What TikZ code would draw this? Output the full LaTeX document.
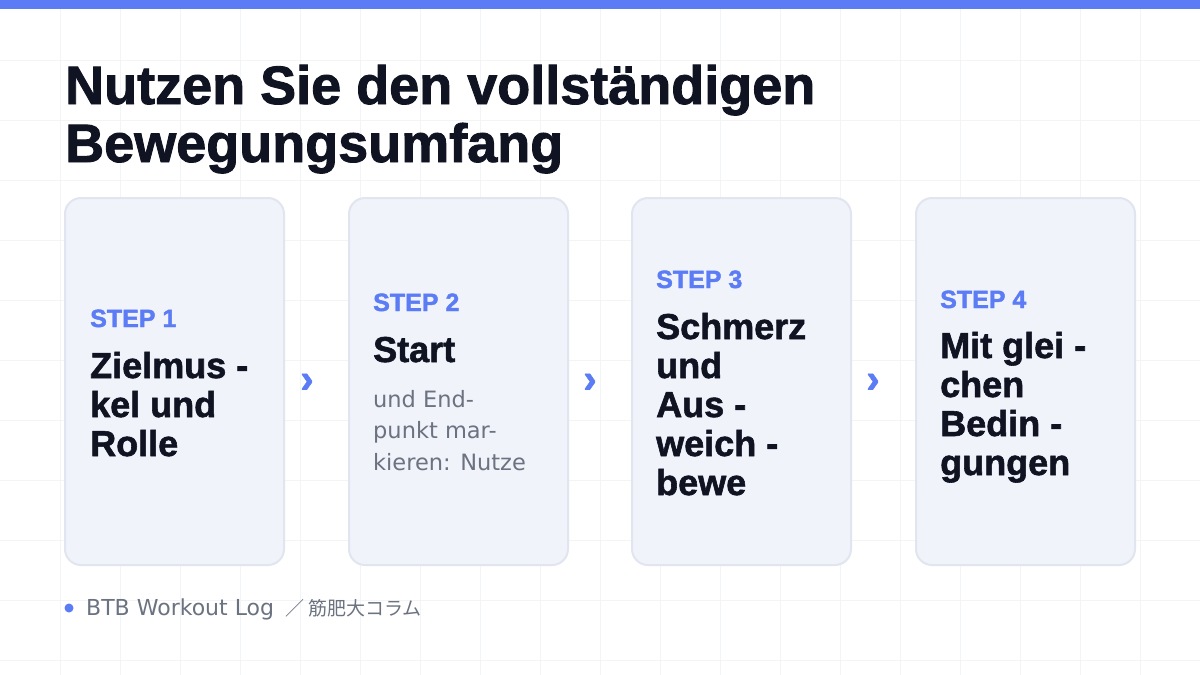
\documentclass[tikz,border=0pt]{standalone}
\usepackage{fontspec}
\setmainfont{Liberation Sans}[BoldFeatures={FakeBold=1.6}]
\newfontfamily\bodyfont{DejaVu Sans}
\newfontfamily\jpfont{Noto Sans CJK JP}
\usetikzlibrary{positioning}

\definecolor{accent}{HTML}{5B7CF5}
\definecolor{ink}{HTML}{101322}
\definecolor{muted}{HTML}{6B7280}
\definecolor{cardfill}{HTML}{F1F3FB}
\definecolor{cardline}{HTML}{E1E5F0}
\definecolor{gridline}{HTML}{F3F4F7}

\begin{document}
\begin{tikzpicture}[x=1pt,y=-1pt]
	\tikzstyle{cardbox}=[draw=cardline,fill=cardfill,line width=2pt,rounded corners=16pt]
	\tikzstyle{steplabel}=[anchor=base west,inner sep=0pt,text=accent,font=\fontsize{25}{28}\selectfont\bfseries]
	\tikzstyle{headtext}=[anchor=base west,inner sep=0pt,text=ink,align=left,font=\fontsize{36}{39}\selectfont\bfseries]
	\tikzstyle{bodytext}=[anchor=base west,inner sep=0pt,text=muted,align=left,font=\bodyfont\fontsize{22.5}{31.5}\selectfont]
	\tikzstyle{chevron}=[inner sep=0pt,text=accent,font=\fontsize{40}{40}\selectfont\bfseries]
	
	\useasboundingbox (0,0) rectangle (1200,675);
	\fill[white] (0,0) rectangle (1200,675);
	% background grid
	\foreach \gx in {60,120,...,1140} \draw[gridline,line width=1pt] (\gx,0) -- (\gx,675);
	\foreach \gy in {60,120,...,660} \draw[gridline,line width=1pt] (0,\gy) -- (1200,\gy);
	\fill[accent] (0,0) rectangle (1200,9);
	
	% title (base = last line)
	\node[anchor=base west,inner sep=0pt,text=ink,align=left,font=\fontsize{54}{58}\selectfont\bfseries] (title) at (65,162) {Nutzen Sie den vollständigen\\Bewegungsumfang};
	
	% cards
	\foreach \cx/\cn in {65/1,349/2,632/3,916/4}
		\draw[cardbox] (\cx,198) rectangle ++(219,367) coordinate (card\cn);
	
	\node[steplabel] (s1) at (90,327) {STEP 1};
	\node[headtext] (h1) at (90,456) {Zielmus -\\kel und\\Rolle};
	
	\node[steplabel] (s2) at (373,311) {STEP 2};
	\node[headtext] (h2) at (373,362) {Start};
	\node[bodytext] (b2) at (373,470) {und End-\\punkt mar-\\kieren: Nutze};
	
	\node[steplabel] (s3) at (656,288) {STEP 3};
	\node[headtext] (h3) at (656,495) {Schmerz\\und\\Aus -\\weich -\\bewe};
	
	\node[steplabel] (s4) at (940,308) {STEP 4};
	\node[headtext] (h4) at (940,475) {Mit glei -\\chen\\Bedin -\\gungen};
	
	% arrows between cards
	\foreach \ax in {307,590,873}
		\node[chevron] at (\ax,383) {›};
	
	% footer
	\fill[accent] (69,608) circle (4.5pt);
	\node[anchor=base west,inner sep=0pt,text=muted,font=\bodyfont\fontsize{22}{24}\selectfont] (foot) at (86,615) {BTB Workout Log \hspace{4pt}{\jpfont\fontsize{19}{24}\selectfont ／ 筋肥大コラム}};
\end{tikzpicture}
\end{document}
